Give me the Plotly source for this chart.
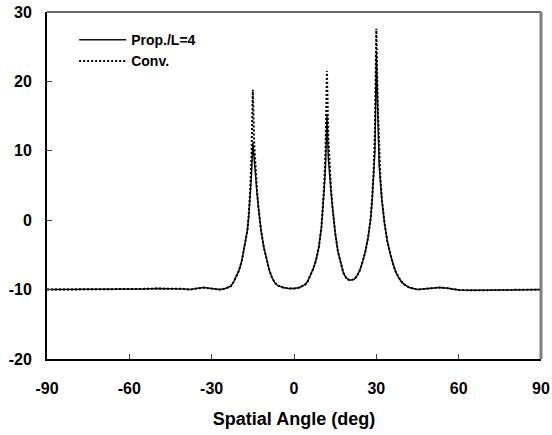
import plotly.graph_objects as go

# Spatial angle samples (deg)
angle = [-90, -80, -70, -60, -55, -50, -45, -40, -38, -35, -33, -31, -29, -27, -25, -23, -22, -21, -20,
         -19, -18, -17, -16.5, -16, -15.5, -15, -14.5, -14, -13.5, -13, -12, -11, -10, -9, -8, -7, -6,
         -4, -2, 0, 2, 4, 5, 6, 7, 8, 9, 10, 10.5, 11, 11.5, 12, 12.5, 13, 13.5, 14, 15, 16, 17, 18,
         19, 20, 21, 22, 23, 24, 25, 26, 27, 28, 28.5, 29, 29.5, 30, 30.5, 31, 31.5, 32, 33, 34, 35,
         36, 37, 38, 39, 40, 42, 45, 48, 50, 53, 56, 60, 65, 70, 73, 76, 80, 90]

prop_L4 = [-10.0, -10.0, -10.0, -10.0, -9.9, -9.85, -9.85, -9.9, -10.0, -9.8, -9.7, -9.8, -9.95, -10.0,
           -9.85, -9.5, -8.9, -8.0, -7.2, -5.8, -3.9, -1.5, 0.5, 3.0, 6.5, 11.2, 8.5, 6.0, 4.0, 2.0,
           -1.5, -3.9, -5.8, -7.2, -8.3, -9.0, -9.4, -9.7, -9.85, -9.85, -9.7, -9.3, -8.8, -8.0, -7.0,
           -5.8, -4.0, -1.0, 1.5, 4.5, 8.0, 15.1, 9.0, 6.0, 4.0, 2.0, -1.8, -4.5, -6.3, -7.6, -8.3,
           -8.6, -8.6, -8.5, -8.0, -7.2, -6.0, -4.5, -2.5, 0.5, 3.0, 6.0, 10.0, 24.0, 13.0, 8.0, 5.5,
           3.0, -0.5, -3.0, -4.8, -6.3, -7.4, -8.2, -8.8, -9.2, -9.7, -10.0, -9.9, -9.75, -9.7, -9.8,
           -10.05, -10.1, -10.1, -10.05, -10.0, -10.0, -10.0]

conv = [-10.0, -10.0, -10.0, -10.0, -9.9, -9.85, -9.85, -9.9, -10.0, -9.8, -9.7, -9.8, -9.95, -10.0,
        -9.85, -9.5, -8.9, -8.0, -7.2, -5.8, -3.9, -1.5, 0.8, 4.0, 9.0, 18.8, 11.0, 7.0, 4.5, 2.0,
        -1.5, -3.9, -5.8, -7.2, -8.3, -9.0, -9.4, -9.7, -9.85, -9.85, -9.7, -9.3, -8.8, -8.0, -7.0,
        -5.8, -4.0, -1.0, 1.8, 5.0, 10.0, 21.5, 12.0, 7.0, 4.5, 2.0, -1.8, -4.5, -6.3, -7.6, -8.3,
        -8.6, -8.6, -8.5, -8.0, -7.2, -6.0, -4.5, -2.5, 0.5, 3.5, 7.0, 13.0, 27.6, 17.0, 9.5, 6.0,
        3.0, -0.5, -3.0, -4.8, -6.3, -7.4, -8.2, -8.8, -9.2, -9.7, -10.0, -9.9, -9.75, -9.7, -9.8,
        -10.05, -10.1, -10.1, -10.05, -10.0, -10.0, -10.0]

x_ticks = [-90, -60, -30, 0, 30, 60, 90]
y_ticks = [-20, -10, 0, 10, 20, 30]

FONT = "Liberation Sans, Arial, sans-serif"

fig = go.Figure()
fig.add_trace(go.Scatter(x=angle, y=prop_L4, mode="lines", name="<b>Prop./L=4</b>",
                         legendgroup="a",
                         line=dict(color="#111111", width=1.5)))
fig.add_trace(go.Scatter(x=angle, y=conv, mode="lines", name="<b>Conv.</b>",
                         legendgroup="b",
                         line=dict(color="black", width=2, dash="2px,2px")))

fig.update_layout(
    width=552, height=435,
    margin=dict(l=47, r=11, t=12, b=76, autoexpand=False),
    paper_bgcolor="white", plot_bgcolor="white",
    font=dict(family=FONT, color="black"),
    showlegend=True,
    legend=dict(x=0.055, y=0.965, xanchor="left", yanchor="top",
                bgcolor="rgba(0,0,0,0)", font=dict(size=14, family=FONT),
                itemwidth=47, tracegroupgap=0),
    xaxis=dict(range=[-90, 90], tickvals=x_ticks, ticktext=[f"<b>{v}</b>" for v in x_ticks],
               ticks="inside", ticklen=5, tickcolor="#444", tickwidth=1,
               showline=True, linecolor="black", linewidth=2, mirror=False,
               showgrid=False, zeroline=False, automargin=False,
               tickfont=dict(size=16, family=FONT), ticklabelstandoff=14,
               title=dict(text="<b>Spatial Angle (deg)</b>", font=dict(size=18, family=FONT), standoff=16)),
    yaxis=dict(range=[-20, 30], tickvals=y_ticks, ticktext=[f"<b>{v}</b>" for v in y_ticks],
               ticks="inside", ticklen=5, tickcolor="#444", tickwidth=1,
               showline=True, linecolor="black", linewidth=2, mirror=False,
               showgrid=False, zeroline=False, automargin=False,
               tickfont=dict(size=16, family=FONT), ticklabelstandoff=10),
    shapes=[
        dict(type="line", xref="paper", yref="paper", x0=0, x1=1, y0=1, y1=1,
             line=dict(color="#333333", width=1.5)),
        dict(type="line", xref="paper", yref="paper", x0=1, x1=1, y0=0, y1=1,
             line=dict(color="#808080", width=3)),
    ],
)

fig.write_html("out.html", config={"displayModeBar": False},
               post_script="document.body.style.margin='0';document.body.style.padding='0';")
